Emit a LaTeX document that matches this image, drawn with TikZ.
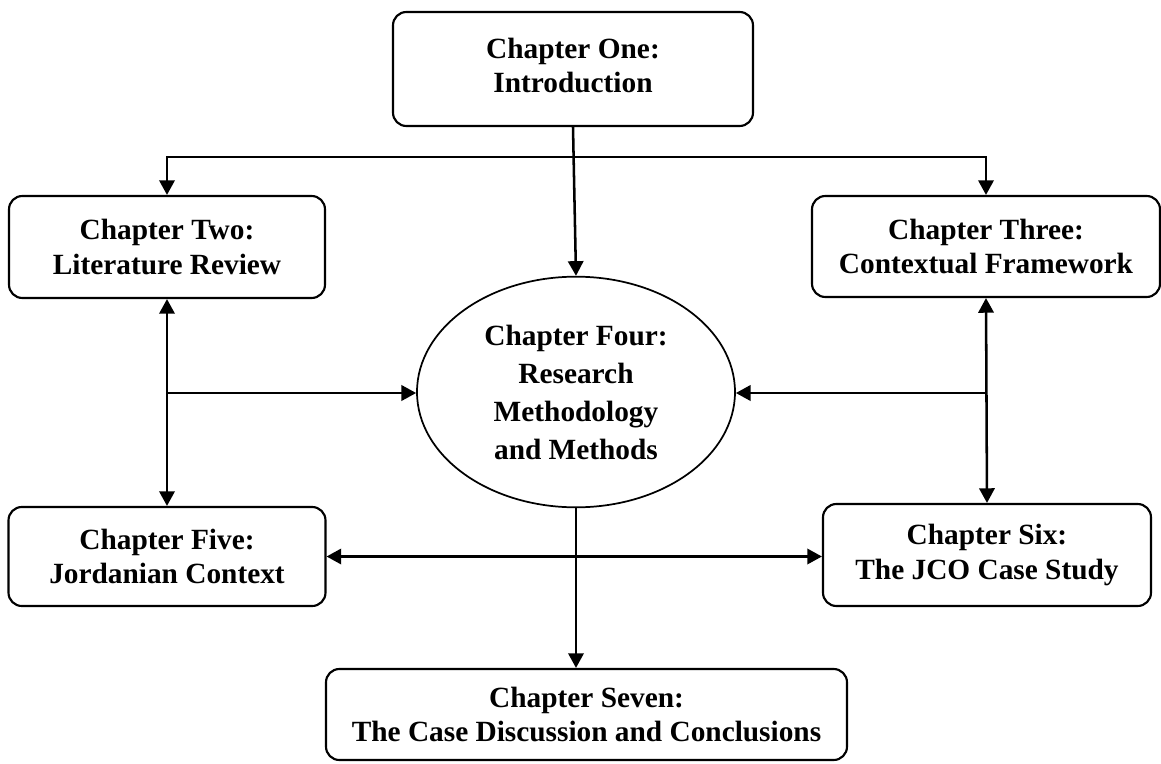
\documentclass[tikz,border=0pt]{standalone}
\usepackage{fontspec}
\setmainfont{Liberation Serif}
\usetikzlibrary{arrows.meta,shapes.geometric}
\begin{document}
\begin{tikzpicture}[x=0.75pt,y=-0.75pt,
  chapbox/.style={draw,line width=1.6pt,rounded corners=10pt,align=center,
    inner sep=0pt,font=\bfseries\fontsize{22}{25.7}\selectfont},
  chapoval/.style={draw,ellipse,line width=1.3pt,align=center,inner sep=0pt,
    minimum width=238.5pt,minimum height=173pt,
    font=\bfseries\fontsize{22}{28.5}\selectfont},
  tip/.tip={Triangle[length=11pt,width=11.5pt]},
  link/.style={line width=1.9pt,-tip},
  dlink/.style={line width=1.9pt,tip-tip}]
\useasboundingbox (0,0) rectangle (1161,764);

% chapter boxes
\node[chapbox,minimum width=270pt,minimum height=85.5pt] (c1) at (573,69)
  {Chapter One:\\Introduction\\[-20pt]};
\node[chapbox,minimum width=237pt,minimum height=76.5pt] (c2) at (167,247)
  {Chapter Two:\\Literature Review};
\node[chapbox,minimum width=261pt,minimum height=75.75pt] (c3) at (986,246.5)
  {Chapter Three:\\Contextual Framework};
\node[chapoval] (c4) at (576,392)
  {Chapter Four:\\Research\\Methodology\\and Methods};
\node[chapbox,minimum width=237.75pt,minimum height=74.25pt] (c5) at (167,556.5)
  {Chapter Five:\\Jordanian Context};
\node[chapbox,minimum width=246pt,minimum height=76.5pt] (c6) at (987,555)
  {Chapter Six:\\The JCO Case Study};
\node[chapbox,minimum width=390.75pt,minimum height=68.25pt] (c7) at (586.5,714.5)
  {Chapter Seven:\\The Case Discussion and Conclusions};

% branching from chapter one
\coordinate (split) at (573,157);
\draw[link] (c1.south) -- (c4.north);
\draw[link] (split) -| (c2.north);
\draw[link] (split) -| (c3.north);

% side links
\draw[dlink] (c2.south) -- (c5.north);
\draw[dlink] (c3.south) -- (c6.north);
\coordinate (lmid) at (167,393);
\coordinate (rmid) at (987,393);
\draw[link] (lmid) -- (lmid -| c4.west);
\draw[link] (rmid) -- (rmid -| c4.east);
\draw[dlink] (c5.east) -- (c5.east -| c6.west);

% down to chapter seven
\draw[link] (c4.south) -- (c4.south |- c7.north);
\end{tikzpicture}
\end{document}
